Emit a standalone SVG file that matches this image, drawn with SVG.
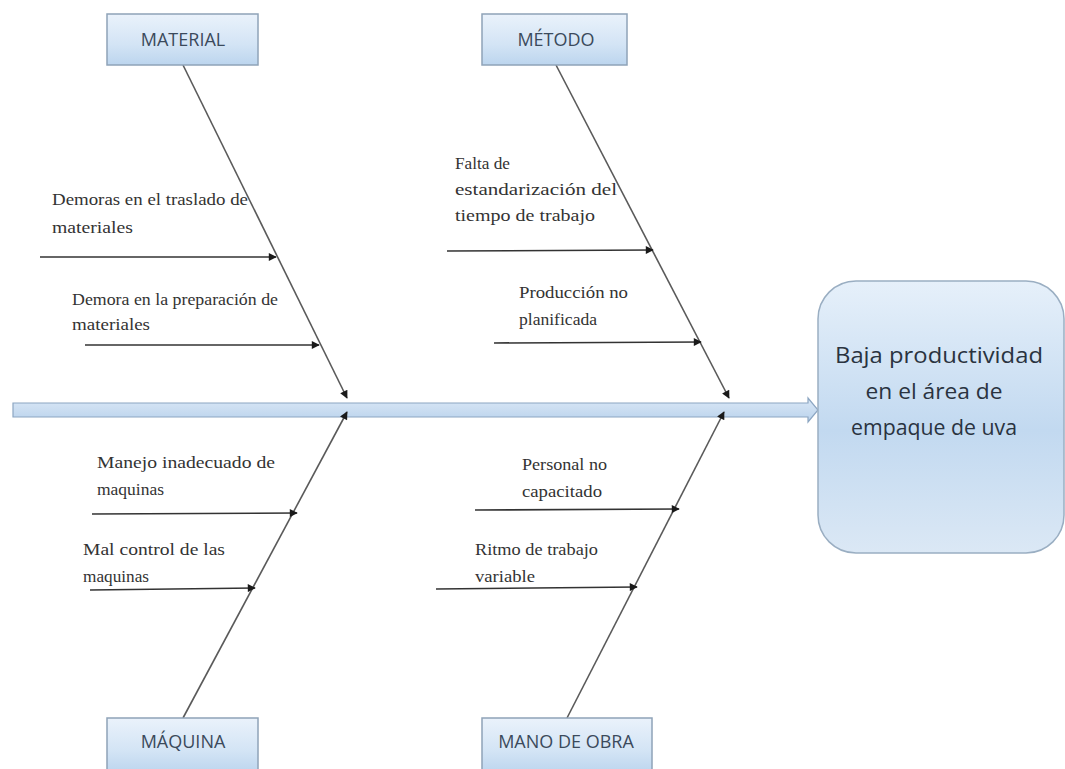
<svg xmlns="http://www.w3.org/2000/svg" width="1065" height="769" viewBox="0 0 1065 769">
<defs>
<linearGradient id="boxg" x1="0" y1="0" x2="0" y2="1">
<stop offset="0" stop-color="#eaf2fb"/>
<stop offset="0.6" stop-color="#d3e4f5"/>
<stop offset="1" stop-color="#bcd5ee"/>
</linearGradient>
<linearGradient id="effg" x1="0" y1="0" x2="0" y2="1">
<stop offset="0" stop-color="#e6f0fa"/>
<stop offset="0.55" stop-color="#c2d9f0"/>
<stop offset="1" stop-color="#dbe8f5"/>
</linearGradient>
<linearGradient id="spineg" x1="0" y1="0" x2="0" y2="1">
<stop offset="0" stop-color="#dbe8f6"/>
<stop offset="1" stop-color="#b9d2ec"/>
</linearGradient>
<marker id="ah" viewBox="0 0 10 10" refX="9" refY="5" markerWidth="10" markerHeight="8" markerUnits="userSpaceOnUse" orient="auto">
<path d="M0,0 L10,5 L0,10 z" fill="#1a1a1a"/>
</marker>
</defs>
<style>
.cat rect{fill:url(#boxg);stroke:#8fa3b8;stroke-width:1.5}
.cat text{font-family:"Open Sans","Liberation Sans",sans-serif;font-size:18px;fill:#3b4a5c;text-anchor:middle}
.bone{stroke:#5a5a5a;stroke-width:1.6;fill:none}
.sub{stroke:#333;stroke-width:1.6;fill:none}
.lbl{font-family:"Liberation Serif",serif;font-size:17px;fill:#333}
.eff text{font-family:"Open Sans","Liberation Sans",sans-serif;font-size:22px;fill:#2a3340;text-anchor:middle}
</style>
<rect width="1065" height="769" fill="#ffffff"/>

<g id="spine">
<path d="M13,403 L808,403 L808,398 L818,410 L808,422 L808,417 L13,417 Z" fill="url(#spineg)" stroke="#8ca6c2" stroke-width="1.2"/>
</g>

<g id="effect" class="eff">
<rect x="818" y="281" width="246" height="272" rx="38" ry="38" fill="url(#effg)" stroke="#9aaec2" stroke-width="1.5"/>
<text x="939" y="363" textLength="208" lengthAdjust="spacingAndGlyphs">Baja productividad</text>
<text x="934" y="399" textLength="137" lengthAdjust="spacingAndGlyphs">en el área de</text>
<text x="934" y="435" textLength="166" lengthAdjust="spacingAndGlyphs">empaque de uva</text>
</g>

<g id="connectors">
<line class="bone" x1="183" y1="65" x2="347" y2="398" marker-end="url(#ah)"/>
<line class="bone" x1="556" y1="65" x2="729" y2="398" marker-end="url(#ah)"/>
<line class="bone" x1="183" y1="718" x2="347" y2="412" marker-end="url(#ah)"/>
<line class="bone" x1="567" y1="718" x2="724" y2="412" marker-end="url(#ah)"/>
<line class="sub" x1="40" y1="257" x2="276" y2="257" marker-end="url(#ah)"/>
<line class="sub" x1="85" y1="345" x2="319" y2="345" marker-end="url(#ah)"/>
<line class="sub" x1="447" y1="251" x2="653" y2="250" marker-end="url(#ah)"/>
<line class="sub" x1="494" y1="343" x2="701" y2="342" marker-end="url(#ah)"/>
<line class="sub" x1="92" y1="514" x2="297" y2="513" marker-end="url(#ah)"/>
<line class="sub" x1="90" y1="590" x2="255" y2="588" marker-end="url(#ah)"/>
<line class="sub" x1="475" y1="510" x2="679" y2="509" marker-end="url(#ah)"/>
<line class="sub" x1="436" y1="589" x2="637" y2="587" marker-end="url(#ah)"/>
</g>

<g id="material" class="cat">
<rect x="107" y="14" width="151" height="51"/>
<text x="183" y="46">MATERIAL</text>
</g>
<g id="metodo" class="cat">
<rect x="482" y="14" width="145" height="51"/>
<text x="556" y="46">MÉTODO</text>
</g>
<g id="maquina" class="cat">
<rect x="107" y="718" width="151" height="55"/>
<text x="183" y="748">MÁQUINA</text>
</g>
<g id="manodeobra" class="cat">
<rect x="482" y="718" width="170" height="55"/>
<text x="566" y="748">MANO DE OBRA</text>
</g>

<g id="c1"><text class="lbl" x="52" y="205" textLength="196" lengthAdjust="spacingAndGlyphs">Demoras en el traslado de</text><text class="lbl" x="52" y="233" textLength="81" lengthAdjust="spacingAndGlyphs">materiales</text></g>
<g id="c2"><text class="lbl" x="72" y="305" textLength="206" lengthAdjust="spacingAndGlyphs">Demora en la preparación de</text><text class="lbl" x="72" y="330" textLength="78" lengthAdjust="spacingAndGlyphs">materiales</text></g>
<g id="c3"><text class="lbl" x="455" y="169" textLength="55" lengthAdjust="spacingAndGlyphs">Falta de</text><text class="lbl" x="455" y="195" textLength="162" lengthAdjust="spacingAndGlyphs">estandarización del</text><text class="lbl" x="455" y="221" textLength="140" lengthAdjust="spacingAndGlyphs">tiempo de trabajo</text></g>
<g id="c4"><text class="lbl" x="519" y="298" textLength="109" lengthAdjust="spacingAndGlyphs">Producción no</text><text class="lbl" x="519" y="325" textLength="78" lengthAdjust="spacingAndGlyphs">planificada</text></g>
<g id="c5"><text class="lbl" x="97" y="468" textLength="178" lengthAdjust="spacingAndGlyphs">Manejo inadecuado de</text><text class="lbl" x="97" y="495" textLength="67" lengthAdjust="spacingAndGlyphs">maquinas</text></g>
<g id="c6"><text class="lbl" x="83" y="555" textLength="142" lengthAdjust="spacingAndGlyphs">Mal control de las</text><text class="lbl" x="83" y="582" textLength="66" lengthAdjust="spacingAndGlyphs">maquinas</text></g>
<g id="c7"><text class="lbl" x="522" y="470" textLength="85" lengthAdjust="spacingAndGlyphs">Personal no</text><text class="lbl" x="522" y="497" textLength="80" lengthAdjust="spacingAndGlyphs">capacitado</text></g>
<g id="c8"><text class="lbl" x="475" y="555" textLength="123" lengthAdjust="spacingAndGlyphs">Ritmo de trabajo</text><text class="lbl" x="475" y="582" textLength="60" lengthAdjust="spacingAndGlyphs">variable</text></g>
</svg>
